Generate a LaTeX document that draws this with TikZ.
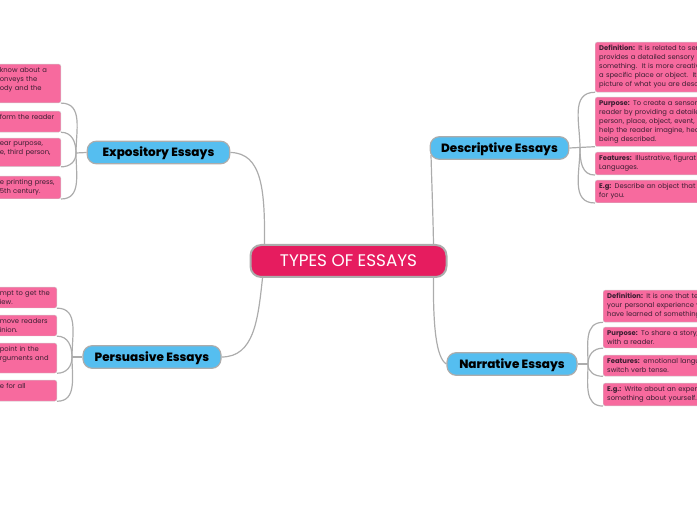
\documentclass[tikz,border=0pt]{standalone}
\usepackage{fontspec}
\usepackage{xcolor}
\usetikzlibrary{positioning}
\setmainfont{Poppins}
\newfontfamily\headfont{Poppins}[UprightFont=* ExtraBold]
\definecolor{topiccolor}{RGB}{230, 28, 95}
\definecolor{branchcolor}{RGB}{85, 190, 240}
\definecolor{leafcolor}{RGB}{247, 106, 158}
\definecolor{linkcolor}{RGB}{172, 172, 172}
\definecolor{leaftext}{RGB}{60, 30, 50}

\begin{document}
\begin{tikzpicture}[
    x=0.75pt, y=-0.75pt,
    topic/.style={draw=linkcolor, line width=1.5pt, fill=topiccolor, text=white, rounded corners=8pt, minimum width=147pt, minimum height=24pt, text height=9pt, text depth=1pt, font=\fontsize{12.6}{14}\selectfont},
    branch/.style={draw=linkcolor, line width=0.9pt, fill=branchcolor, text=black, rounded corners=7pt, minimum height=17pt, text height=7pt, text depth=0.5pt, font=\fontsize{9}{10}\headfont},
    leaf/.style={draw=linkcolor!60, line width=0.3pt, fill=leafcolor, text=leaftext, rounded corners=1.5pt, inner xsep=3pt, inner ysep=2.5pt, align=left, font=\fontsize{5.1}{6.75}\selectfont},
    leafL/.style={leaf, anchor=north east},
    leafR/.style={leaf, anchor=north west, text width=150pt},
    link/.style={draw=linkcolor, line width=0.9pt}
]
    \path[use as bounding box, clip] (0,0) rectangle (697,520);

    % Main topic and branches
    \node[topic] (essays) at (348.5,261) {TYPES OF ESSAYS};
    \node[branch, minimum width=107pt] (expository) at (158.5,152.5) {Expository Essays};
    \node[branch, minimum width=103.5pt] (persuasive) at (152,357) {Persuasive Essays};
    \node[branch, minimum width=104pt] (descriptive) at (499.5,148) {Descriptive Essays};
    \node[branch, minimum width=97.5pt] (narrative) at (512,364) {Narrative Essays};

    % Expository leaves
    \node[leafL, text width=42.75pt] (expoA) at (61,64) {know about a\\onveys the\\ody and the\\~};
    \node[leafL, text width=42.75pt] (expoB) at (61,111) {form the reader\\~};
    \node[leafL, text width=42.75pt] (expoC) at (61,138) {ear purpose,\\e, third person,\\~};
    \node[leafL, text width=42.75pt] (expoD) at (61,176) {e printing press,\\5th century.};

    % Persuasive leaves
    \node[leafL, text width=39.75pt] (persA) at (57,287) {mpt to get the\\iew.};
    \node[leafL, text width=39.75pt] (persB) at (57,315) {move readers\\inion.};
    \node[leafL, text width=39.75pt] (persC) at (57,343) {point in the\\rguments and\\~};
    \node[leafL, text width=39.75pt] (persD) at (57,380) {e for all\\~};

    % Descriptive leaves
    \node[leafR] (descA) at (595,42) {\textbf{Definition:} It is related to sen\\provides a detailed sensory\\something.\ \ It is more creativ\\a specific place or object.\ \ It\\picture of what you are desc};
    \node[leafR] (descB) at (595,97) {\textbf{Purpose:} To create a sensory\\reader by providing a detaile\\person, place, object, event,\\help the reader imagine, hea\\being described.};
    \node[leafR] (descC) at (595,152) {\textbf{Features:} Illustrative, figurat\\Languages.};
    \node[leafR] (descD) at (595,180) {\textbf{E.g:} Describe an object that h\\for you.};

    % Narrative leaves
    \node[leafR] (narrA) at (603,290) {\textbf{Definition:} It is one that tel\\your personal experience v\\have learned of something};
    \node[leafR] (narrB) at (603,327) {\textbf{Purpose:} To share a story,\\with a reader.};
    \node[leafR] (narrC) at (603,355) {\textbf{Features:} emotional langu\\switch verb tense.};
    \node[leafR] (narrD) at (603,383) {\textbf{E.g.:} Write about an experi\\something about yourself.};

    % Joints of the leaf curves
    \coordinate (expoJoint) at (76,153);
    \coordinate (persJoint) at (72,357);
    \coordinate (descJoint) at (580,148);
    \coordinate (narrJoint) at (588,364);

    % Topic to branches
    \draw[link] (essays.north west) ++(15,0) coordinate (topNW) .. controls (265,190) and (262,153) .. (expository.east);
    \draw[link] (essays.south west) ++(13,0) coordinate (botSW) .. controls (258,320) and (254,357) .. (persuasive.east);
    \draw[link] (essays.north east) ++(-14,0) coordinate (topNE) .. controls (433,215) and (432,190) .. (431,155);
    \draw[link] (essays.south east) ++(-14,0) coordinate (botSE) .. controls (433,325) and (436,358) .. (narrative.west);

    % Branches to leaves
    \draw[link] (expository.west) -- (expoJoint);
    \draw[link] (expoJoint) to[out=90, in=0, looseness=1.1] (expoA.south east);
    \draw[link] (expoJoint) to[out=90, in=0, looseness=1.1] (expoB.south east);
    \draw[link] (expoJoint) to[out=-90, in=0, looseness=1.1] (expoC.south east);
    \draw[link] (expoJoint) to[out=-90, in=0, looseness=1.1] (expoD.south east);

    \draw[link] (persuasive.west) -- (persJoint);
    \draw[link] (persJoint) to[out=90, in=0, looseness=1.1] (persA.south east);
    \draw[link] (persJoint) to[out=90, in=0, looseness=1.1] (persB.south east);
    \draw[link] (persJoint) to[out=-90, in=0, looseness=1.1] (persC.south east);
    \draw[link] (persJoint) to[out=-90, in=0, looseness=1.1] (persD.south east);

    \draw[link] (descriptive.east) -- (descB.south west);
    \draw[link] (descJoint) to[out=90, in=180, looseness=1.1] (descA.south west);
    \draw[link] (descJoint) to[out=-90, in=180, looseness=1.1] (descC.south west);
    \draw[link] (descJoint) to[out=-90, in=180, looseness=1.1] (descD.south west);

    \draw[link] (narrative.east) -- (narrJoint);
    \draw[link] (narrJoint) to[out=90, in=180, looseness=1.1] (narrA.south west);
    \draw[link] (narrJoint) to[out=90, in=180, looseness=1.1] (narrB.south west);
    \draw[link] (narrJoint) to[out=-90, in=180, looseness=1.1] (narrC.south west);
    \draw[link] (narrJoint) to[out=-90, in=180, looseness=1.1] (narrD.south west);
\end{tikzpicture}
\end{document}
